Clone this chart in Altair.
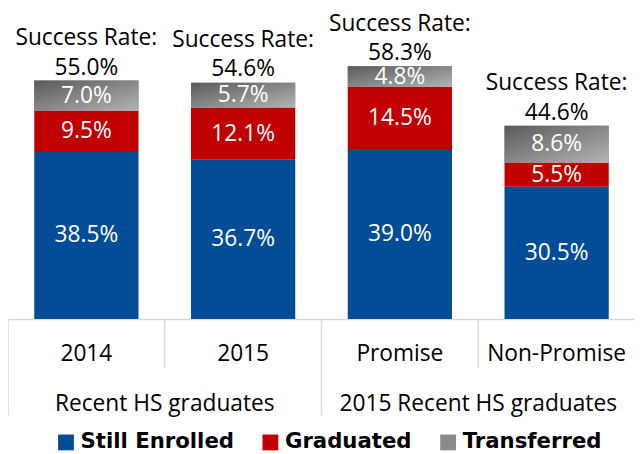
import altair as alt
import pandas as pd

categories = ["2014", "2015", "Promise", "Non-Promise"]
series = ["Still Enrolled", "Graduated", "Transferred"]
still_enrolled = [38.5, 36.7, 39.0, 30.5]
graduated = [9.5, 12.1, 14.5, 5.5]
transferred = [7.0, 5.7, 4.8, 8.6]
success_rate = [55.0, 54.6, 58.3, 44.6]
group_labels = ["Recent HS graduates", "2015 Recent HS graduates"]
group_first = ["2014", "Promise"]
inner_bounds = ["2015", "Non-Promise"]

BLUE = "#034C97"
RED = "#C00000"
GRAY = "#8a8a8a"
FONT = "Open Sans"
LFONT = "DejaVu Sans"
FS = 23

rows = []
for i, c in enumerate(categories):
    for j, (s, vals) in enumerate(zip(series, [still_enrolled, graduated, transferred])):
        rows.append({"cat": c, "series": s, "value": vals[i], "order": j,
                     "label": f"{vals[i]:.1f}%"})
df = pd.DataFrame(rows)
tot = pd.DataFrame({"cat": categories, "rate": success_rate,
                    "rlabel": [f"{v:.1f}%" for v in success_rate]})
grp = pd.DataFrame({"cat": group_first, "g": group_labels})
inner = pd.DataFrame({"cat": inner_bounds})
outer = pd.DataFrame({"cat": group_first})

xscale = alt.Scale(domain=categories, paddingInner=0, paddingOuter=0)
yscale = alt.Scale(domain=[0, 71.1], nice=False, zero=True)

x_axis = alt.Axis(title=None, labelAngle=0, ticks=False, grid=False,
                  domainColor="#d9d9d9", domainWidth=1.5,
                  labelFont=FONT, labelFontSize=FS, labelColor="black",
                  labelPadding=24)
x = alt.X("cat:N", sort=categories, scale=xscale, axis=x_axis)

stacked = alt.Chart(df).transform_stack(
    stack="value", groupby=["cat"], sort=[alt.SortField("order")], as_=["y0", "y1"]
).transform_calculate(mid="(datum.y0 + datum.y1) / 2")

grad = alt.Gradient(
    gradient="linear",
    stops=[alt.GradientStop(color="#5a5a5a", offset=0),
           alt.GradientStop(color="#b4b4b4", offset=1)],
    x1=0, y1=0, x2=1, y2=1)

legend = alt.Legend(
    title=None, orient="none", legendX=48, legendY=426, direction="horizontal",
    symbolType="square", symbolSize=256, symbolStrokeWidth=0,
    labelFont=LFONT, labelFontSize=21.5, labelFontWeight="bold", labelColor="black",
    labelOffset=4, columnPadding=26)

bars = stacked.mark_bar(width=alt.RelativeBandSize(0.665)).encode(
    x=x,
    y=alt.Y("y0:Q", scale=yscale, axis=None),
    y2="y1:Q",
    color=alt.Color("series:N", scale=alt.Scale(domain=series, range=[BLUE, RED, GRAY]),
                    legend=legend),
)

tbars = stacked.transform_filter("datum.series === 'Transferred'").mark_bar(
    width=alt.RelativeBandSize(0.665), fill=grad).encode(
    x=x, y=alt.Y("y0:Q", scale=yscale), y2="y1:Q")

seg_text = stacked.mark_text(color="white", font=FONT, fontSize=FS, baseline="middle").encode(
    x=x, y=alt.Y("mid:Q", scale=yscale), text="label:N")

rate_num = alt.Chart(tot).mark_text(font=FONT, fontSize=FS, color="black",
                                    baseline="alphabetic", dy=-6).encode(
    x=x, y=alt.Y("rate:Q", scale=yscale), text="rlabel:N")
rate_head = alt.Chart(tot).mark_text(font=FONT, fontSize=FS, color="black",
                                     baseline="alphabetic", dy=-36).encode(
    x=x, y=alt.Y("rate:Q", scale=yscale), text=alt.value("Success Rate:"))

short_div = alt.Chart(inner).mark_rule(color="#d9d9d9", strokeWidth=1.5).encode(
    x=alt.X("cat:N", scale=xscale, bandPosition=0), y=alt.value(312), y2=alt.value(362))
long_div = alt.Chart(outer).mark_rule(color="#d9d9d9", strokeWidth=1.5).encode(
    x=alt.X("cat:N", scale=xscale, bandPosition=0), y=alt.value(312), y2=alt.value(410))

grp_text = alt.Chart(grp).mark_text(font=FONT, fontSize=FS, color="black",
                                    baseline="middle").encode(
    x=alt.X("cat:N", scale=xscale, bandPosition=1), y=alt.value(398), text="g:N")

chart = alt.layer(bars, tbars, seg_text, rate_num, rate_head, short_div, long_div, grp_text).properties(
    width=635, height=312,
    autosize=alt.AutoSizeParams(type="none"),
    padding={"left": 0, "top": 0, "right": 0, "bottom": 136},
).configure_view(stroke=None)

chart.save("out.html", embed_options={"renderer": "svg", "actions": False})
